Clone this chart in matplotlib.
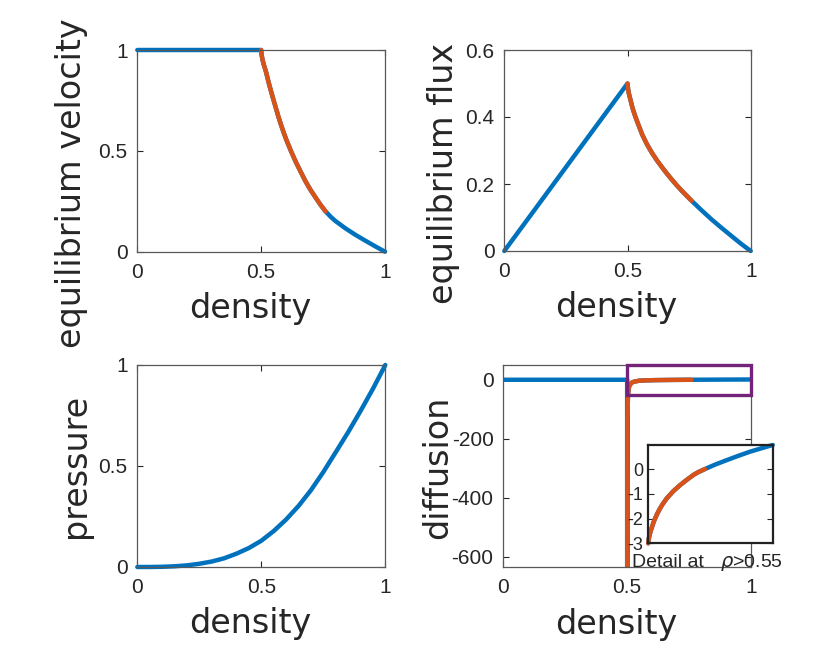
import matplotlib
matplotlib.use("Agg")
import matplotlib.pyplot as plt
from matplotlib.patches import Rectangle

plt.rcParams['font.family'] = ['Liberation Sans', 'DejaVu Sans']
plt.rcParams['axes.unicode_minus'] = False

BLUE = '#0072BD'
ORANGE = '#D95319'
PURPLE = '#73237A'
AX = '#262626'

# ---- data ----
split = 0.76

# equilibrium velocity
rho_v = [0.0, 0.5, 0.502, 0.505, 0.51, 0.52, 0.53, 0.54, 0.55, 0.56, 0.57, 0.58, 0.59, 0.60,
         0.62, 0.64, 0.66, 0.68, 0.70, 0.72, 0.74, 0.76, 0.78, 0.80, 0.84, 0.88, 0.92, 0.96, 1.0]
vel = [1.0, 1.0, 0.975, 0.955, 0.93, 0.89, 0.84, 0.795, 0.752, 0.71, 0.668, 0.63, 0.594, 0.56,
       0.50, 0.445, 0.395, 0.347, 0.305, 0.268, 0.232, 0.200, 0.174, 0.152, 0.116, 0.084,
       0.055, 0.027, 0.0]

# equilibrium flux
rho_q = [0.0, 0.5, 0.502, 0.505, 0.51, 0.52, 0.53, 0.54, 0.56, 0.58, 0.60, 0.62, 0.64, 0.66,
         0.68, 0.70, 0.72, 0.76, 0.80, 0.84, 0.88, 0.92, 0.96, 1.0]
flux = [0.0, 0.5, 0.485, 0.472, 0.457, 0.428, 0.405, 0.385, 0.347, 0.317, 0.292, 0.27, 0.25,
        0.231, 0.213, 0.196, 0.18, 0.15, 0.122, 0.095, 0.070, 0.046, 0.022, 0.0]

# pressure
rho_p = [0.0, 0.05, 0.1, 0.15, 0.2, 0.25, 0.3, 0.35, 0.4, 0.45, 0.5, 0.55, 0.6, 0.65,
         0.7, 0.75, 0.8, 0.85, 0.9, 0.95, 1.0]
pres = [0.0, 0.0001, 0.001, 0.0035, 0.008, 0.016, 0.027, 0.043, 0.066, 0.094, 0.13, 0.178,
        0.235, 0.302, 0.38, 0.47, 0.568, 0.667, 0.772, 0.882, 1.0]

# diffusion (full range)
rho_d = [0.0, 0.5, 0.5, 0.5005, 0.501, 0.503, 0.506, 0.51, 0.52, 0.53, 0.55, 0.58, 0.62,
         0.67, 0.72, 0.76, 0.85, 0.92, 1.0]
diff = [0.0, 0.0, -5000.0, -400.0, -150.0, -60.0, -30.0, -18.0, -9.0, -6.0, -3.0, -1.86,
        -1.1, -0.6, -0.2, 0.0, 0.45, 0.70, 0.97]

# diffusion detail (rho > 0.55)
rho_i = [0.55, 0.552, 0.555, 0.558, 0.562, 0.566, 0.57, 0.575, 0.58, 0.59, 0.60, 0.617,
         0.64, 0.665, 0.69, 0.713, 0.73, 0.755, 0.79, 0.834, 0.875, 0.918, 0.96, 1.0]
diff_i = [-3.0, -2.8, -2.65, -2.52, -2.39, -2.25, -2.12, -1.99, -1.86, -1.64, -1.45, -1.18,
          -0.9, -0.65, -0.43, -0.24, -0.13, 0.0, 0.17, 0.36, 0.53, 0.70, 0.84, 0.97]

x_ticks = [0, 0.5, 1]
x_ticklabels = ['0', '0.5', '1']
v_ticks = [0, 0.5, 1]
v_ticklabels = ['0', '0.5', '1']
q_ticks = [0, 0.2, 0.4, 0.6]
q_ticklabels = ['0', '0.2', '0.4', '0.6']
d_ticks = [-600, -400, -200, 0]
d_ticklabels = ['-600', '-400', '-200', '0']
i_ticks = [-3, -2, -1, 0]
i_ticklabels = ['-3', '-2', '-1', '0']


def sub(xs, ys, lo, hi):
    px, py = [], []
    for a, b in zip(xs, ys):
        if lo <= a <= hi:
            px.append(a)
            py.append(b)
    return px, py


fig = plt.figure(figsize=(8.3, 6.64), dpi=100)
W, H = 830.0, 664.0

def mk(l, r, t, b):
    return fig.add_axes([l / W, 1 - b / H, (r - l) / W, (b - t) / H])

ax1 = mk(137.3, 385.0, 50.0, 251.7)
ax2 = mk(504.3, 750.7, 50.0, 251.0)
ax3 = mk(137.3, 385.3, 365.0, 567.0)
ax4 = mk(503.3, 751.0, 365.0, 567.3)

LW = 3.2
for ax in (ax1, ax2, ax3, ax4):
    ax.tick_params(direction='in', top=True, right=True, length=4, width=0.8,
                   color=AX, labelcolor=AX, labelsize=15)
    ax.tick_params(axis='x', pad=8)
    ax.tick_params(axis='y', pad=7)
    for s in ax.spines.values():
        s.set_color('0.35')
        s.set_linewidth(0.9)
    ax.set_xlim(0, 1)
    ax.set_xticks(x_ticks)
    ax.set_xticklabels(x_ticklabels)

LBL = dict(fontsize=24, family='DejaVu Sans', color=AX)
LKW = dict(lw=LW, solid_capstyle='round', solid_joinstyle='round')

# velocity
ax1.plot(rho_v, vel, color=BLUE, clip_on=False, **LKW)
ax1.plot(*sub(rho_v, vel, 0.5, split), color=ORANGE, clip_on=False, **LKW)
ax1.set_ylim(0, 1)
ax1.set_yticks(v_ticks)
ax1.set_yticklabels(v_ticklabels)
ax1.set_ylabel('equilibrium velocity', **LBL)
ax1.yaxis.set_label_coords(-0.199, 0.3406)

# flux
ax2.plot(rho_q, flux, color=BLUE, clip_on=False, **LKW)
ax2.plot(*sub(rho_q, flux, 0.5, split), color=ORANGE, clip_on=False, **LKW)
ax2.set_ylim(0, 0.6)
ax2.set_yticks(q_ticks)
ax2.set_yticklabels(q_ticklabels)
ax2.set_ylabel('equilibrium flux', **LBL)
ax2.yaxis.set_label_coords(-0.18, 0.387)

# pressure
ax3.plot(rho_p, pres, color=BLUE, clip_on=False, **LKW)
ax3.set_ylim(0, 1)
ax3.set_yticks(v_ticks)
ax3.set_yticklabels(v_ticklabels)
ax3.set_ylabel('pressure', **LBL)
ax3.yaxis.set_label_coords(-0.183, 0.5)

# diffusion
ax4.plot(rho_d, diff, color=BLUE, **LKW)
dx, dy = sub(rho_d, diff, 0.5, split)
ax4.plot(dx[1:], dy[1:], color=ORANGE, **LKW)
ax4.set_ylim(-635, 50)
ax4.set_yticks(d_ticks)
ax4.set_yticklabels(d_ticklabels)
ax4.set_ylabel('diffusion', **LBL)
ax4.yaxis.set_label_coords(-0.2, 0.495)
ax4.add_patch(Rectangle((0.5, -52), 0.5, 102, fill=False, edgecolor=PURPLE, lw=2.4,
                        clip_on=False, zorder=5))

for ax in (ax1, ax2, ax3, ax4):
    ax.set_xlabel('density', va='baseline', **LBL)
    ax.xaxis.set_label_coords(0.4544, -0.3287)

# inset
axi = mk(648.3, 772.7, 445.0, 543.3)
axi.plot(rho_i, diff_i, color=BLUE, clip_on=False, **LKW)
axi.plot(*sub(rho_i, diff_i, 0.55, 0.755), color=ORANGE, clip_on=False, **LKW)
axi.set_xlim(0.55, 1)
axi.set_ylim(-3, 0.97)
axi.set_xticks([])
axi.set_yticks(i_ticks)
axi.set_yticklabels(i_ticklabels)
axi.tick_params(direction='in', left=True, right=True, length=4, width=0.8, color=AX,
                labelcolor=AX, labelsize=13, pad=3.5)
for s in axi.spines.values():
    s.set_color('#222222')
    s.set_linewidth(1.6)

fig.text(632 / W, 1 - 566.7 / H, 'Detail at', fontsize=14, color=AX,
         ha='left', va='baseline')
fig.text(720 / W, 1 - 566.7 / H, r'$\rho$>0.55', fontsize=14, color=AX,
         ha='left', va='baseline')

fig.savefig('out.png', dpi=100)
